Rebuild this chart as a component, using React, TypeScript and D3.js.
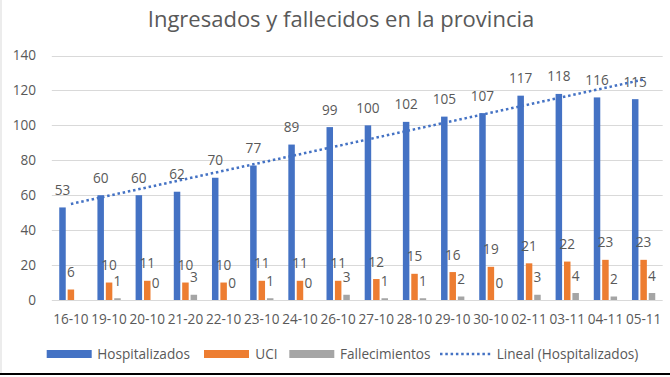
import React from "react";
import * as d3 from "d3";

const categories = ["16-10","19-10","20-10","21-20","22-10","23-10","24-10","26-10","27-10","28-10","29-10","30-10","02-11","03-11","04-11","05-11"];
const hospitalizados = [53,60,60,62,70,77,89,99,100,102,105,107,117,118,116,115];
const uci = [6,10,11,10,10,11,11,11,12,15,16,19,21,22,23,23];
const fallecimientos: (number | null)[] = [null,1,0,3,0,1,0,3,1,1,2,0,3,4,2,4];
const yTicks = [0,20,40,60,80,100,120,140];
const seriesNames = ["Hospitalizados","UCI","Fallecimientos"];
const seriesColors = ["#4472C4","#ED7D31","#A5A5A5"];
const trendName = "Lineal (Hospitalizados)";
const title = "Ingresados y fallecidos en la provincia";

const W = 670, H = 377;
const FONT = "'Open Sans', sans-serif";
const TXT = "#595959";
const FS = 13.6;

export default function App() {
  const x = d3.scaleBand<string>().domain(categories).range([51.8, 662.7]).paddingInner(0).paddingOuter(0);
  const y = d3.scaleLinear().domain([0, 140]).range([300, 55.5]);
  const bw = x.bandwidth();
  const barW = 6.5, pitch = 8.4;
  const groupW = pitch * 2 + barW;
  const series: (number | null)[][] = [hospitalizados, uci, fallecimientos];

  // linear regression trendline
  const n = hospitalizados.length;
  const xs = d3.range(1, n + 1);
  const mx = d3.mean(xs)!, my = d3.mean(hospitalizados)!;
  const sxy = d3.sum(xs, (v, i) => (v - mx) * (hospitalizados[i] - my));
  const sxx = d3.sum(xs, v => (v - mx) * (v - mx));
  const slope = sxy / sxx, intercept = my - slope * mx;
  const trendPts: [number, number][] = [
    [x(categories[0])! + bw / 2, y(intercept + slope * 1)],
    [x(categories[n - 1])! + bw / 2, y(intercept + slope * n)],
  ];
  const line = d3.line();

  const legendItems = [
    { name: seriesNames[0], sx: 46.7, tx: 97.3, color: seriesColors[0] },
    { name: seriesNames[1], sx: 204, tx: 255.3, color: seriesColors[1] },
    { name: seriesNames[2], sx: 289.3, tx: 340, color: seriesColors[2] },
  ];

  return (
    <svg width={W} height={H} style={{ position: "absolute", left: 0, top: 0, background: "#fff" }} fontFamily={FONT}>
      <rect x={0} y={0} width={W} height={H} fill="#fff" />
      <text x={341} y={27} textAnchor="middle" fontSize={22} fill={TXT}>{title}</text>
      {yTicks.map(t => (
        <g key={t}>
          <line x1={51.8} x2={662.7} y1={Math.round(y(t)) + 0.5} y2={Math.round(y(t)) + 0.5} stroke="#D9D9D9" strokeWidth={1} />
          <text x={36} y={y(t) + 4.8} textAnchor="end" fontSize={FS} fill={TXT}>{t}</text>
        </g>
      ))}
      {categories.map((c, i) => {
        const gx = x(c)! + (bw - groupW) / 2;
        return (
          <g key={c}>
            {series.map((s, k) => s[i] == null ? null : (
              <rect key={k} x={gx + k * pitch} y={y(s[i]!)} width={barW} height={y(0) - y(s[i]!)} fill={seriesColors[k]} />
            ))}
            {series.map((s, k) => s[i] == null ? null : (
              <text key={"l" + k} x={gx + k * pitch + barW / 2} y={y(s[i]!) - 12.5} textAnchor="middle" fontSize={FS} fill={TXT}>{s[i]}</text>
            ))}
            <text x={x(c)! + bw / 2} y={324} textAnchor="middle" fontSize={FS} fill={TXT}>{c}</text>
          </g>
        );
      })}
      <path d={line(trendPts)!} stroke="#4472C4" strokeWidth={2.5} strokeDasharray="2.5,2.8" fill="none" />
      {legendItems.map(l => (
        <g key={l.name}>
          <rect x={l.sx} y={350} width={45} height={8} fill={l.color} />
          <text x={l.tx} y={358.5} fontSize={FS} fill={TXT}>{l.name}</text>
        </g>
      ))}
      <line x1={440} x2={491.7} y1={354} y2={354} stroke="#4472C4" strokeWidth={2.5} strokeDasharray="2.5,2.8" />
      <text x={496.7} y={358.5} fontSize={FS} fill={TXT}>{trendName}</text>
      <line x1={1} x2={1} y1={0} y2={373} stroke="#D9D9D9" strokeWidth={1} />
      <line x1={0} x2={W} y1={374} y2={374} stroke="#000" strokeWidth={2} />
    </svg>
  );
}
